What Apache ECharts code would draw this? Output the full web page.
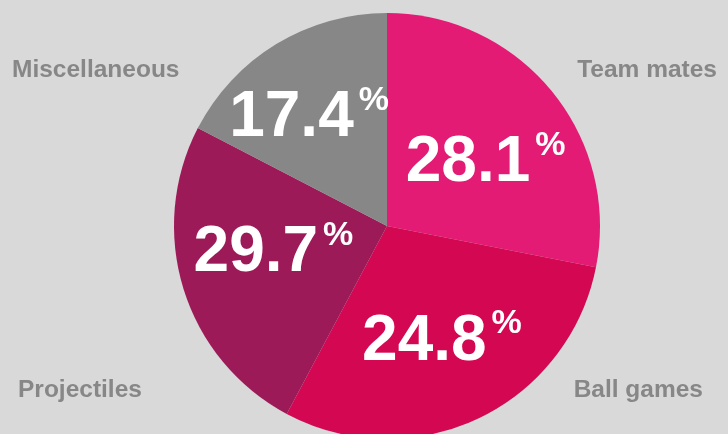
<!DOCTYPE html>
<html>
<head>
<meta charset="utf-8">
<script src="https://cdn.jsdelivr.net/npm/echarts@6/dist/echarts.min.js"></script>
<style>
  html, body { margin: 0; padding: 0; background: #d9d9d9; }
  #chart { width: 728px; height: 434px; }
</style>
</head>
<body>
<div id="chart"></div>
<script>
// slice order: clockwise from 12 o'clock
var categories = ['Team mates', 'Ball games', 'Projectiles', 'Miscellaneous'];
// slice sizes as drawn
var shares = [28.1, 29.7, 24.8, 17.4];
// percentage text printed in each slice (as shown on the picture)
var shownLabels = ['28.1', '24.8', '29.7', '17.4'];
var colors = ['#e41b75', '#d40852', '#9d1a58', '#878787'];

// nudges for the in-slice labels
var labelShift = [[14, 7], [8, 17], [-9, -5], [-21, -14]];

var chart = echarts.init(document.getElementById('chart'), null, { renderer: 'canvas' });

var pieData = [];
for (var i = 0; i < categories.length; i++) {
  pieData.push({
    name: categories[i],
    value: shares[i],
    itemStyle: { color: colors[i] }
  });
}

var nameFont = {
  fontFamily: 'Liberation Sans, Arial, sans-serif',
  fontWeight: 'bold',
  fontSize: 24.5,
  fill: '#878787'
};

function nameText(idx, x, y, align) {
  return {
    type: 'text',
    x: x,
    y: y,
    silent: true,
    style: Object.assign({}, nameFont, {
      text: categories[idx],
      align: align,
      verticalAlign: 'middle'
    })
  };
}

var option = {
  backgroundColor: '#d9d9d9',
  animation: false,
  series: [{
    type: 'pie',
    center: [387, 226],
    radius: 213,
    startAngle: 90,
    clockwise: true,
    avoidLabelOverlap: false,
    itemStyle: { borderWidth: 0 },
    emphasis: { disabled: true },
    label: {
      show: true,
      position: 'inside',
      formatter: function (p) {
        return '{n|' + shownLabels[p.dataIndex] + '}{p|%}';
      },
      rich: {
        n: {
          fontFamily: 'Liberation Sans, Arial, sans-serif',
          fontWeight: 'bold',
          fontSize: 64,
          lineHeight: 70,
          color: '#ffffff'
        },
        p: {
          fontFamily: 'Liberation Sans, Arial, sans-serif',
          fontWeight: 'bold',
          fontSize: 34,
          color: '#ffffff',
          verticalAlign: 'top',
          padding: [0, 0, 0, 5]
        }
      }
    },
    labelLine: { show: false },
    labelLayout: function (p) {
      var s = labelShift[p.dataIndex];
      return { dx: s[0], dy: s[1] };
    },
    data: pieData
  }],
  graphic: [
    nameText(3, 12, 70, 'left'),
    nameText(0, 717, 70, 'right'),
    nameText(2, 18, 390, 'left'),
    nameText(1, 703, 390, 'right')
  ]
};

chart.setOption(option);
</script>
</body>
</html>
